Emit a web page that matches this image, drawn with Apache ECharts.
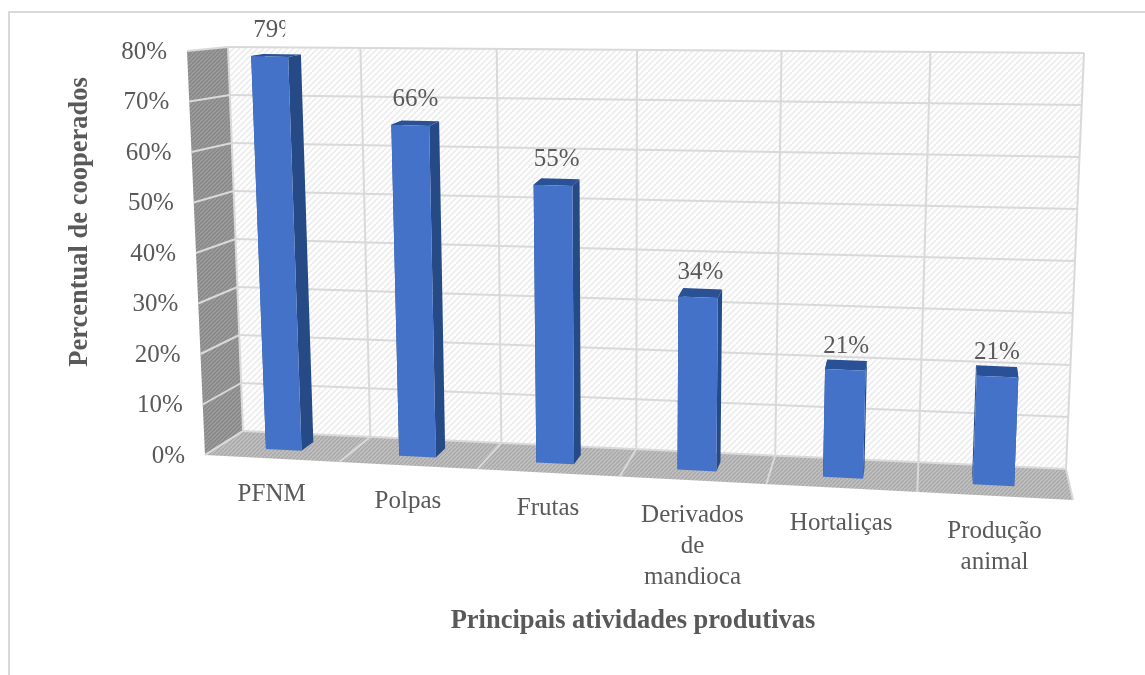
<!DOCTYPE html>
<html>
<head>
<meta charset="utf-8">
<style>
  html, body { margin: 0; padding: 0; background: #fff; }
  #chart { width: 1145px; height: 675px; }
</style>
<script src="https://cdn.jsdelivr.net/npm/echarts@6/dist/echarts.min.js"></script>
</head>
<body>
<div id="chart"></div>
<script>
const categories = ['PFNM', 'Polpas', 'Frutas', 'Derivados\nde\nmandioca', 'Hortaliças', 'Produção\nanimal']
const values = [79, 66, 55, 34, 21, 21]
const yTicks = [0, 10, 20, 30, 40, 50, 60, 70, 80]
const yTitle = 'Percentual de cooperados'
const xTitle = 'Principais atividades produtivas'

const TEXT = '#595959'
const GRID_LINE = '#d9d9d9'
const FONT = '"Liberation Serif", "Times New Roman", serif'

// box corners on screen, [x, y]. b = back plane, f = front plane
const BOX = {
  bBL: [243, 431], bBR: [1066, 469], bTL: [228, 47], bTR: [1084, 53],
  fBL: [205, 455], fBR: [1073, 500], fTL: [187, 51], fTR: [1091, 84],
}
const PERSPECTIVE = 0.915  // columns get wider to the right
const BAR_BAND = 0.27
const BAR_FRONT = 0.65
const BAR_BACK = 0.3

const mix = (a, b, t) => [a[0] + (b[0] - a[0]) * t, a[1] + (b[1] - a[1]) * t]

// u: 0..1 along categories, v: 0..1 along values, d: 0 back wall .. 1 front edge
function project(u, v, d) {
  const w = PERSPECTIVE * u / (1 - (1 - PERSPECTIVE) * u)
  const back = mix(mix(BOX.bBL, BOX.bBR, w), mix(BOX.bTL, BOX.bTR, w), v)
  const front = mix(mix(BOX.fBL, BOX.fBR, w), mix(BOX.fTL, BOX.fTR, w), v)
  return mix(back, front, d)
}

function hatch(base, line, size) {
  const c = document.createElement('canvas')
  c.width = c.height = size
  const g = c.getContext('2d')
  g.fillStyle = base
  g.fillRect(0, 0, size, size)
  g.strokeStyle = line
  g.lineWidth = 1.3
  for (const o of [-size, 0, size]) {
    g.beginPath()
    g.moveTo(o, size)
    g.lineTo(o + size, 0)
    g.stroke()
  }
  return { image: c, repeat: 'repeat' }
}

const wallFill = hatch('#fdfdfd', '#e9e9e9', 6)
const sideFill = hatch('#9c9c9c', '#868686', 4)
const floorFill = hatch('#c0c0c0', '#a8a8a8', 4)

const chart = echarts.init(document.getElementById('chart'), null, { renderer: 'canvas' })

// grid fills the page, so a pixel from api.coord divided by its size gives u and v
const W = 1145
const H = 675
const uv = (api, cat, val) => {
  const p = api.coord([cat, val])
  return [p[0] / W, 1 - p[1] / H]
}

const poly = (points, fill) => ({ type: 'polygon', shape: { points }, style: { fill, stroke: null } })
const line = (a, b, width) => ({
  type: 'line',
  shape: { x1: a[0], y1: a[1], x2: b[0], y2: b[1] },
  style: { stroke: GRID_LINE, lineWidth: width || 2 },
})

function renderWalls() {
  return {
    type: 'group',
    children: [
      poly([project(0, 0, 0), project(1, 0, 0), project(1, 1, 0), project(0, 1, 0)], wallFill),
      poly([project(0, 0, 1), project(0, 0, 0), project(0, 1, 0), project(0, 1, 1)], sideFill),
      poly([project(0, 0, 1), project(1, 0, 1), project(1, 0, 0), project(0, 0, 0)], floorFill),
    ],
  }
}

function renderHorizontal(params, api) {
  const v = api.value(0) / yTicks[yTicks.length - 1]
  return {
    type: 'group',
    children: [
      line(project(0, v, 1), project(0, v, 0)),
      line(project(0, v, 0), project(1, v, 0)),
    ],
  }
}

function renderVertical(params) {
  const u = params.dataIndex / categories.length
  return {
    type: 'group',
    children: [
      line(project(u, 1, 0), project(u, 0, 0)),
      line(project(u, 0, 0), project(u, 0, 1)),
    ],
  }
}

function renderBar(params, api) {
  const pos = uv(api, params.dataIndex, api.value(1))
  const half = api.size([1, 0])[0] / W * BAR_BAND / 2
  const l = pos[0] - half
  const r = pos[0] + half
  const v = pos[1]
  const fl0 = project(l, 0, BAR_FRONT), fr0 = project(r, 0, BAR_FRONT)
  const fl1 = project(l, v, BAR_FRONT), fr1 = project(r, v, BAR_FRONT)
  const bl0 = project(l, 0, BAR_BACK), br0 = project(r, 0, BAR_BACK)
  const bl1 = project(l, v, BAR_BACK), br1 = project(r, v, BAR_BACK)
  return {
    type: 'group',
    children: [
      poly([fl0, bl0, bl1, fl1], '#264a86'),
      poly([fr0, br0, br1, fr1], '#264a86'),
      poly([fl1, fr1, br1, bl1], '#2a5196'),
      poly([fl0, fr0, fr1, fl1], '#4472c8'),
    ],
  }
}

function renderValueLabel(params, api) {
  const pos = uv(api, params.dataIndex, api.value(1))
  const p = project(pos[0], pos[1], BAR_BACK)
  const c = project(pos[0], pos[1], (BAR_FRONT + BAR_BACK) / 2)
  const y = p[1] - 10 - 14 * pos[1]
  const el = {
    type: 'text',
    style: {
      x: c[0], y, text: api.value(1) + '%', fill: TEXT,
      font: '25px ' + FONT, textAlign: 'center', textVerticalAlign: 'middle',
    },
  }
  // the tallest label is cut off in the original
  if (params.dataIndex === 0) {
    el.clipPath = { type: 'rect', shape: { x: c[0] - 40, y: y - 30, width: 49, height: 60 } }
  }
  return el
}

function renderTickLabel(params, api) {
  const val = api.value(0)
  const p = project(0, val / yTicks[yTicks.length - 1], 1)
  return {
    type: 'text',
    style: {
      x: p[0] - 20, y: p[1] + 1, text: val + '%', fill: TEXT,
      font: '25px ' + FONT, textAlign: 'right', textVerticalAlign: 'middle',
    },
  }
}

function renderCategoryLabel(params, api) {
  const pos = uv(api, params.dataIndex, 0)
  const p = project(pos[0], 0, 1)
  return {
    type: 'text',
    style: {
      x: p[0], y: p[1] + 20, text: categories[params.dataIndex], fill: TEXT,
      font: '25px ' + FONT, lineHeight: 31, textAlign: 'center', textVerticalAlign: 'top',
    },
  }
}

const custom = (renderItem, data, z) => ({
  type: 'custom', renderItem, data, z, silent: true, clip: false, animation: false,
})

const barData = values.map((v, i) => [i, v])

chart.setOption({
  animation: false,
  backgroundColor: '#fff',
  grid: { left: 0, right: 0, top: 0, bottom: 0 },
  xAxis: { type: 'category', data: categories, show: false },
  yAxis: { type: 'value', min: 0, max: 80, interval: 10, show: false },
  graphic: [
    {
      type: 'polyline', silent: true,
      shape: { points: [[9, 675], [9, 12], [1145, 12]] },
      style: { stroke: GRID_LINE, lineWidth: 2, fill: null },
    },
    {
      type: 'text', silent: true, x: 80, y: 222, rotation: Math.PI / 2,
      style: {
        text: yTitle, fill: TEXT, font: 'bold 26.5px ' + FONT,
        textAlign: 'center', textVerticalAlign: 'middle',
      },
    },
    {
      type: 'text', silent: true, x: 633, y: 621,
      style: {
        text: xTitle, fill: TEXT, font: 'bold 26.5px ' + FONT,
        textAlign: 'center', textVerticalAlign: 'middle',
      },
    },
  ],
  series: [
    custom(renderWalls, [0], 1),
    custom(renderHorizontal, yTicks.map(t => [t]), 2),
    custom(renderVertical, [0, 1, 2, 3, 4, 5, 6].map(i => [i]), 2),
    custom(renderBar, barData, 3),
    custom(renderValueLabel, barData, 4),
    custom(renderTickLabel, yTicks.map(t => [t]), 4),
    custom(renderCategoryLabel, barData, 4),
  ],
})
</script>
</body>
</html>
